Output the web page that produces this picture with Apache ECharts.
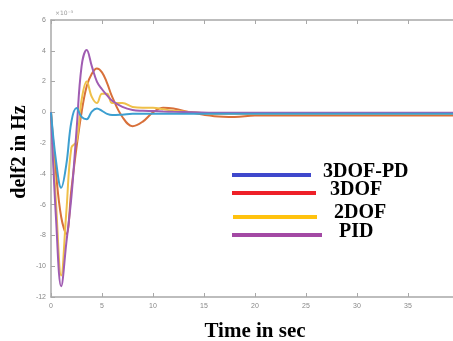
<!DOCTYPE html>
<html>
<head>
<meta charset="utf-8">
<script src="https://cdn.jsdelivr.net/npm/echarts@6/dist/echarts.min.js"></script>
<style>
  html, body { margin: 0; padding: 0; background: #fff; }
  #chart { width: 453px; height: 341px; }
</style>
</head>
<body>
<div id="chart"></div>
<script>
// time samples (sec), values in units of 1e-3 Hz
const time = [0, 0.5, 1, 1.5, 2, 2.5, 3, 3.5, 4, 4.5, 5, 5.5, 6, 7, 8, 9, 10, 11, 12, 14, 16, 18, 20, 25, 30, 35, 40];

const pd3dof = [0, -3.2, -4.9, -3.4, -0.6, 0.28, -0.3, -0.45, 0.05, 0.25, 0.1, -0.1, -0.18, -0.15, -0.1, -0.1, -0.1, -0.1, -0.1, -0.1, -0.1, -0.1, -0.1, -0.1, -0.1, -0.1, -0.1];
const dof3 = [0, -4, -6.8, -7.9, -5, -2.3, 0, 1.7, 2.5, 2.85, 2.6, 1.9, 1.0, -0.3, -0.9, -0.6, 0, 0.3, 0.25, -0.05, -0.25, -0.3, -0.2, -0.2, -0.2, -0.2, -0.2];
const dof2 = [0, -6, -10.6, -6.5, -2.3, -1.9, 0.8, 2.0, 1.0, 0.6, 1.2, 1.2, 0.6, 0.6, 0.35, 0.3, 0.3, 0.2, 0.1, 0, -0.1, -0.1, -0.1, -0.1, -0.1, -0.1, -0.1];
const pid = [0, -7, -11.3, -8.5, -5.5, -1.2, 3.0, 4.05, 3.0, 2.0, 1.5, 1.1, 0.75, 0.35, 0.15, 0.1, 0.08, 0.05, 0.03, 0, -0.03, -0.02, -0.02, -0.02, -0.02, -0.02, -0.02];

const legendNames = ['3DOF-PD', '3DOF', '2DOF', 'PID'];

const lineColors = ['#3d9fd0', '#d8703a', '#efc04a', '#a05cb2'];
const legendColors = ['#3f48cc', '#ee2028', '#ffc20e', '#a349a4'];

const pair = vals => time.map((t, i) => [t, vals[i]]);
const seriesVals = [pd3dof, dof3, dof2, pid];

const chart = echarts.init(document.getElementById('chart'));

const titleFont = { fontFamily: 'Liberation Serif', fontWeight: 'bold', color: '#000' };
const axisGray = '#a8a8a8';

// legend drawn by hand: line + label, positions follow the original figure
const legendRows = [
  { ly: 175, x1: 232, x2: 311, tx: 323, ty: 172 },
  { ly: 193, x1: 232, x2: 316, tx: 330, ty: 190 },
  { ly: 217, x1: 233, x2: 317, tx: 334, ty: 213 },
  { ly: 235, x1: 232, x2: 322, tx: 339, ty: 232 },
];
const legendGraphics = [];
legendRows.forEach((r, i) => {
  legendGraphics.push({
    type: 'line',
    shape: { x1: r.x1, y1: r.ly, x2: r.x2, y2: r.ly },
    style: { stroke: legendColors[i], lineWidth: 4 },
    z: 10,
  });
  legendGraphics.push({
    type: 'text',
    x: r.tx,
    y: r.ty,
    style: {
      text: legendNames[i],
      font: 'bold 20px "Liberation Serif"',
      fill: '#000',
      verticalAlign: 'middle',
    },
    z: 10,
  });
});

const boxAxis = {
  min: 0,
  max: 40,
  interval: 5,
};

chart.setOption({
  animation: false,
  backgroundColor: '#fff',
  grid: { left: 51, right: -6, top: 20, bottom: 44, outerBoundsMode: 'none', containLabel: false },
  xAxis: [
    {
      type: 'value',
      ...boxAxis,
      name: 'Time in sec',
      nameLocation: 'middle',
      nameGap: 24,
      nameTextStyle: { ...titleFont, fontSize: 21 },
      axisLine: { onZero: false, lineStyle: { color: axisGray, width: 1.5 } },
      axisTick: { inside: true, length: 4, lineStyle: { color: axisGray } },
      axisLabel: { fontSize: 7, color: '#888', margin: 6 },
      splitLine: { show: false },
    },
    {
      type: 'value',
      position: 'top',
      ...boxAxis,
      axisLine: { show: true, onZero: false, lineStyle: { color: axisGray, width: 1.5 } },
      axisTick: { inside: true, length: 4, lineStyle: { color: axisGray } },
      axisLabel: { show: false },
      splitLine: { show: false },
    },
  ],
  yAxis: [
    {
      type: 'value',
      min: -12,
      max: 6,
      interval: 2,
      axisLine: { show: true, onZero: false, lineStyle: { color: axisGray, width: 1.5 } },
      axisTick: { show: true, inside: true, length: 4, lineStyle: { color: axisGray } },
      axisLabel: { fontSize: 7, color: '#888', margin: 5 },
      splitLine: { show: false },
    },
    {
      type: 'value',
      position: 'right',
      min: -12,
      max: 6,
      interval: 2,
      axisLine: { show: true, onZero: false, lineStyle: { color: axisGray, width: 1.5 } },
      axisTick: { show: true, inside: true, length: 4, lineStyle: { color: axisGray } },
      axisLabel: { show: false },
      splitLine: { show: false },
    },
  ],
  graphic: [
    {
      type: 'text',
      x: 55,
      y: 10,
      style: { text: '×10⁻³', font: '6px "DejaVu Sans"', fill: '#999' },
    },
    {
      // y axis title
      type: 'text',
      x: 20,
      y: 152,
      rotation: Math.PI / 2,
      style: {
        text: 'delf2 in Hz',
        font: 'bold 20px "Liberation Serif"',
        fill: '#000',
        align: 'center',
        verticalAlign: 'middle',
      },
    },
    ...legendGraphics,
  ],
  series: seriesVals.map((vals, i) => ({
    name: legendNames[i],
    type: 'line',
    data: pair(vals),
    smooth: 0.4,
    showSymbol: false,
    lineStyle: { color: lineColors[i], width: 2 },
    z: 2 + (i === 0 ? 4 : i),
  })),
});
</script>
</body>
</html>
